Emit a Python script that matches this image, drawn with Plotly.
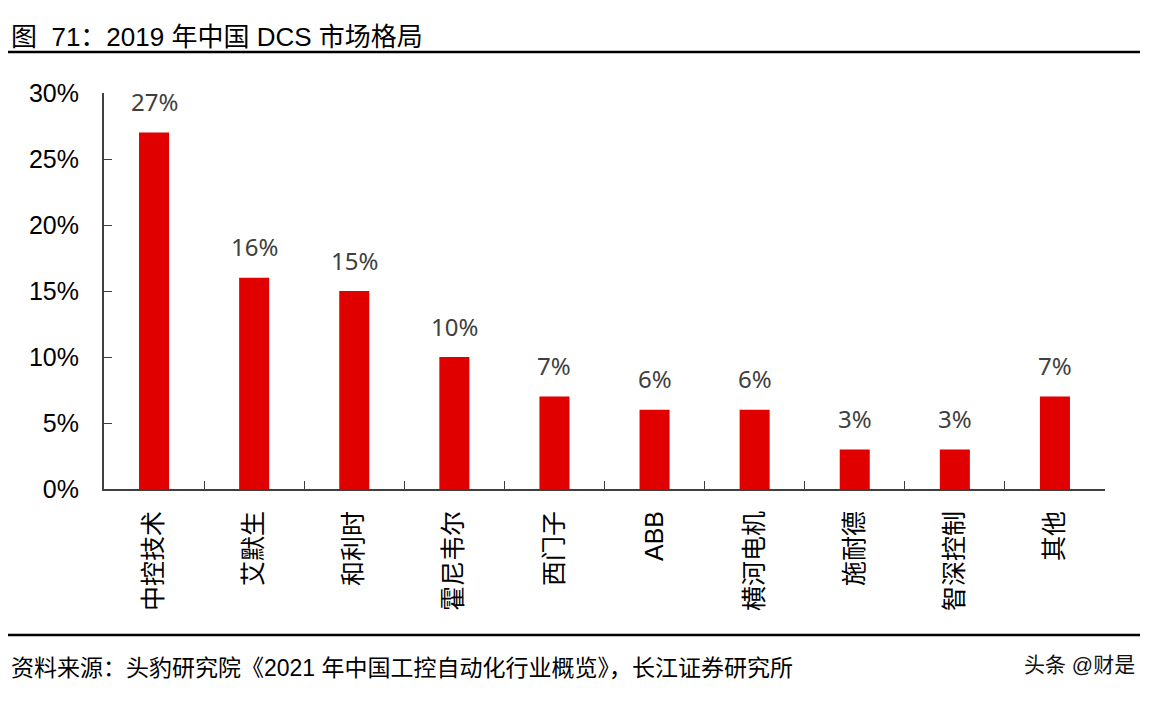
import plotly.graph_objects as go

categories = ["中控技术", "艾默生", "和利时", "霍尼韦尔", "西门子", "ABB", "横河电机", "施耐德", "智深控制", "其他"]
shares = [27, 16, 15, 10, 7, 6, 6, 3, 3, 7]
label_texts = ["27%", "16%", "15%", "10%", "7%", "6%", "6%", "3%", "3%", "7%"]
y_ticks = [0, 5, 10, 15, 20, 25, 30]
y_tick_labels = ["0%", "5%", "10%", "15%", "20%", "25%", "30%"]

title_text = "图  71：2019 年中国 DCS 市场格局"
source_text = "资料来源：头豹研究院《2021 年中国工控自动化行业概览》，长江证券研究所"
watermark = "头条 @财是"

FONT = "Liberation Sans, Arial, Noto Sans CJK SC, sans-serif"

OFF = 8  # page body margin
W, H = 1157 - 2 * OFF, 702 - 2 * OFF
# plot area in reference-page pixels
L, R, T, B = 104, 1105, 93, 489


def px_x(p):
    return (p - L) / (R - L)


def px_y(p):
    return (B - p) / (B - T)


fig = go.Figure(
    go.Bar(
        x=categories,
        y=shares,
        width=0.3,
        marker=dict(color="#E00000", line=dict(width=0)),
        hoverinfo="x+y",
    )
)

for c, v, t in zip(categories, shares, label_texts):
    fig.add_annotation(
        x=c, y=v, text=t, showarrow=False, xanchor="center", yanchor="middle",
        yshift=31,
        font=dict(family="Noto Sans, Open Sans, sans-serif", size=24, color="#404040"),
    )

fig.update_layout(
    width=W,
    height=H,
    margin=dict(l=L - OFF, r=W - (R - OFF), t=T - OFF, b=H - (B - OFF), pad=0),
    paper_bgcolor="white",
    plot_bgcolor="white",
    showlegend=False,
    font=dict(family=FONT, color="black"),
)

fig.update_yaxes(
    range=[0, 30],
    tickvals=y_ticks,
    ticktext=y_tick_labels,
    ticks="inside",
    ticklen=8,
    tickcolor="#404040",
    showline=True,
    linecolor="#404040",
    linewidth=2,
    showgrid=False,
    zeroline=False,
    tickfont=dict(family=FONT, size=25, color="black"),
    ticklabelstandoff=18,
)

fig.update_xaxes(
    type="category",
    tickson="boundaries",
    ticks="inside",
    ticklen=8,
    tickcolor="#404040",
    showline=True,
    linecolor="#404040",
    linewidth=2,
    showgrid=False,
    tickangle=-90,
    tickfont=dict(family=FONT, size=25, color="black"),
    ticklabelstandoff=10,
)

# title, rules, source, watermark
fig.add_annotation(
    text=title_text, xref="paper", yref="paper", x=px_x(9), y=px_y(37),
    xanchor="left", yanchor="middle", showarrow=False,
    font=dict(family=FONT, size=26, color="black"),
)
for yy in (52, 635):
    fig.add_shape(
        type="line", xref="paper", yref="paper",
        x0=px_x(8), x1=px_x(1140), y0=px_y(yy), y1=px_y(yy),
        line=dict(color="black", width=2.5),
    )
fig.add_annotation(
    text=source_text, xref="paper", yref="paper", x=px_x(9), y=px_y(668),
    xanchor="left", yanchor="middle", showarrow=False,
    font=dict(family=FONT, size=23, color="black"),
)
fig.add_annotation(
    text=watermark, xref="paper", yref="paper", x=px_x(1137), y=px_y(664),
    xanchor="right", yanchor="middle", showarrow=False,
    font=dict(family=FONT, size=21, color="#111111"),
)

fig.write_html("out.html")
